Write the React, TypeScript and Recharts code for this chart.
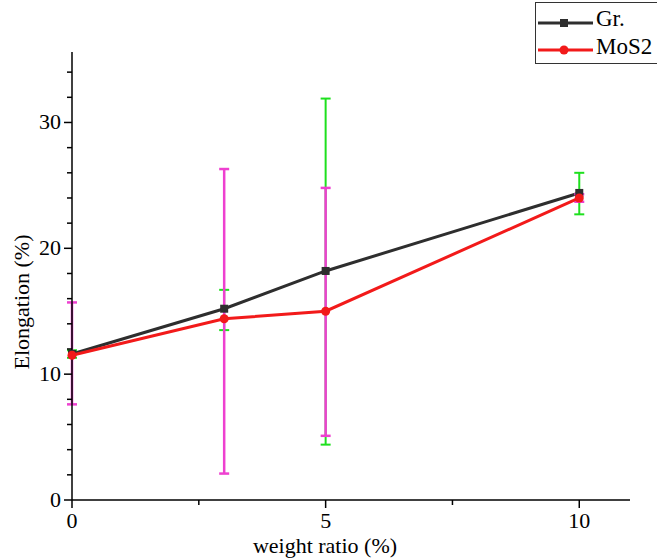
import React from 'react';
import { LineChart, Line, XAxis, YAxis, ErrorBar } from 'recharts';

const weightRatio = [0, 3, 5, 10];
const grElong = [11.6, 15.2, 18.2, 24.4];
const grLow = [11.3, 13.5, 4.4, 22.7];
const grHigh = [11.9, 16.7, 31.9, 26.0];
const mos2Elong = [11.5, 14.4, 15.0, 24.0];
const mos2Low = [7.6, 2.1, 5.1, 23.7];
const mos2High = [15.7, 26.3, 24.8, 24.3];

const yTicks = [0, 2, 4, 6, 8, 10, 12, 14, 16, 18, 20, 22, 24, 26, 28, 30, 32, 34];
const xTicks = [0, 2.5, 5, 7.5, 10];

const FONT = '"Liberation Serif", "Times New Roman", serif';
const GR_COLOR = '#2e2e2e';
const MOS2_COLOR = '#f21a1a';
const textStyle = { fontFamily: FONT, fontSize: 22 };

const data = weightRatio.map((w, i) => ({
  w,
  gr: grElong[i],
  grErr: [grElong[i] - grLow[i], grHigh[i] - grElong[i]],
  mos2: mos2Elong[i],
  mos2Err: [mos2Elong[i] - mos2Low[i], mos2High[i] - mos2Elong[i]],
}));

const YTick = (props: any) => {
  const { x, y, payload } = props;
  const major = payload.value % 10 === 0;
  return (
    <g>
      <line x1={x - (major ? 8 : 5)} x2={x} y1={y} y2={y} stroke="#000" strokeWidth={1.5} />
      {major && (
        <text x={x - 11} y={y} dy={7} textAnchor="end" style={textStyle} fill="#000">
          {payload.value}
        </text>
      )}
    </g>
  );
};

const XTick = (props: any) => {
  const { x, y, payload } = props;
  const major = payload.value % 5 === 0;
  return (
    <g>
      <line x1={x} x2={x} y1={y} y2={y + (major ? 8 : 5)} stroke="#000" strokeWidth={1.5} />
      {major && (
        <text x={x} y={y + 28} textAnchor="middle" style={textStyle} fill="#000">
          {payload.value}
        </text>
      )}
    </g>
  );
};

const SquareDot = (props: any) => {
  const { cx, cy } = props;
  return <rect x={cx - 4} y={cy - 4} width={8} height={8} fill={GR_COLOR} />;
};

function LegendBox() {
  return (
    <div
      style={{
        position: 'absolute',
        left: 535,
        top: 2,
        width: 130,
        height: 60,
        border: '1px solid #333',
        background: '#fff',
        fontFamily: FONT,
        fontSize: 23,
      }}
    >
      <svg width={60} height={60} style={{ position: 'absolute', left: 0, top: 0 }}>
        <line x1={2} x2={57} y1={20} y2={20} stroke={GR_COLOR} strokeWidth={3} />
        <rect x={24} y={16} width={8} height={8} fill={GR_COLOR} />
        <line x1={2} x2={57} y1={47} y2={47} stroke={MOS2_COLOR} strokeWidth={3} />
        <circle cx={28} cy={47} r={4.5} fill={MOS2_COLOR} />
      </svg>
      <div style={{ position: 'absolute', left: 60, top: 4, lineHeight: '24px' }}>Gr.</div>
      <div style={{ position: 'absolute', left: 60, top: 32, lineHeight: '24px' }}>MoS2</div>
    </div>
  );
}

export default function App() {
  return (
    <div style={{ position: 'absolute', left: 0, top: 0, width: 657, height: 559, background: '#fff' }}>
      <LineChart width={657} height={559} data={data} margin={{ top: 52, right: 27, bottom: 0, left: 12 }}>
        <XAxis
          dataKey="w"
          type="number"
          domain={[0, 11]}
          ticks={xTicks}
          interval={0}
          height={59}
          tickSize={0}
          tickMargin={0}
          tick={<XTick />}
          axisLine={{ stroke: '#000', strokeWidth: 1.5 }}
          label={{
            content: () => (
              <text x={325} y={553} textAnchor="middle" style={textStyle} fill="#000">
                weight ratio (%)
              </text>
            ),
          }}
        />
        <YAxis
          type="number"
          domain={[0, 35.6]}
          ticks={yTicks}
          interval={0}
          width={60}
          tickSize={0}
          tickMargin={0}
          tick={<YTick />}
          allowDataOverflow
          axisLine={{ stroke: '#000', strokeWidth: 1.5 }}
          label={{
            content: () => (
              <text
                x={0}
                y={0}
                transform="translate(29,302) rotate(-90)"
                textAnchor="middle"
                style={textStyle}
                fill="#000"
              >
                Elongation (%)
              </text>
            ),
          }}
        />
        <Line
          dataKey="gr"
          stroke={GR_COLOR}
          strokeWidth={3}
          dot={<SquareDot />}
          isAnimationActive={false}
        >
          <ErrorBar dataKey="grErr" stroke="#1ee01e" strokeWidth={2} width={5} direction="y" />
        </Line>
        <Line
          dataKey="mos2"
          stroke={MOS2_COLOR}
          strokeWidth={3}
          dot={{ r: 4.5, fill: MOS2_COLOR, stroke: MOS2_COLOR, strokeWidth: 0 }}
          isAnimationActive={false}
        >
          <ErrorBar dataKey="mos2Err" stroke="#ee40d0" strokeWidth={2.5} width={5} direction="y" />
        </Line>
      </LineChart>
      <LegendBox />
    </div>
  );
}
